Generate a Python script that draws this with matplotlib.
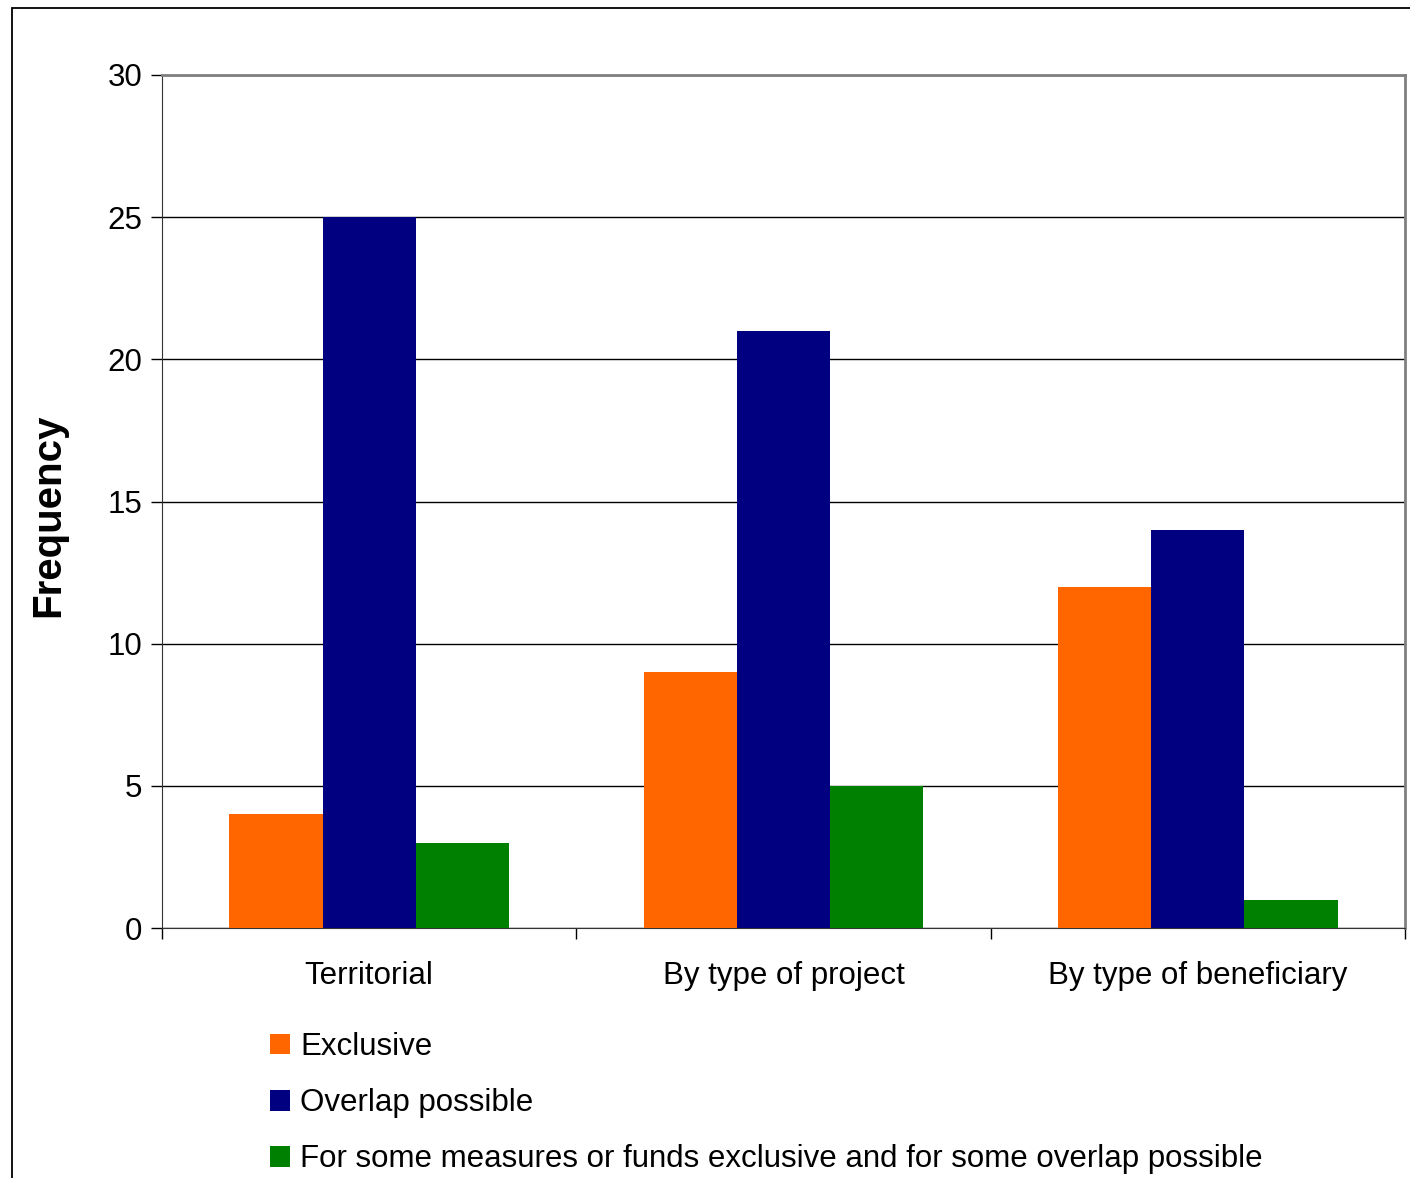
import matplotlib.pyplot as plt
from matplotlib.patches import Rectangle

plt.rcParams['font.family'] = ['Liberation Sans', 'DejaVu Sans']

categories = ["Territorial", "By type of project", "By type of beneficiary"]
series_names = ["Exclusive", "Overlap possible",
                "For some measures or funds exclusive and for some overlap possible"]
exclusive = [4, 9, 12]
overlap = [25, 21, 14]
mixed = [3, 5, 1]
colors = ["#FF6600", "#000080", "#008000"]

fig = plt.figure(figsize=(14.1, 11.78), dpi=100)
ax = fig.add_axes([162 / 1410, 1 - 928 / 1178, (1405 - 162) / 1410, (928 - 75) / 1178])

# outer chart frame (cut off at right and bottom)
fig.patches.append(Rectangle((12 / 1410, -0.05), 1.2, 1 - 8 / 1178 + 0.05,
                             transform=fig.transFigure, fill=False,
                             edgecolor="black", linewidth=1.3))

w = 0.225
x = range(len(categories))
bars = []
for k, vals in enumerate([exclusive, overlap, mixed]):
    b = ax.bar([i + (k - 1) * w for i in x], vals, width=w, color=colors[k],
               label=series_names[k], zorder=3, linewidth=0)
    bars.append(b)

ax.set_xlim(-0.5, 2.5)
ax.set_ylim(0, 30)
ax.set_yticks(range(0, 31, 5))
ax.yaxis.grid(True, color="black", linewidth=1)
ax.set_axisbelow(True)

ax.set_xticks([-0.5, 0.5, 1.5, 2.5])
ax.set_xticklabels([])
ax.set_xticks(list(x), minor=True)
ax.set_xticklabels(categories, minor=True, fontsize=22.5)
ax.tick_params(axis="x", which="minor", length=0, pad=24)
ax.tick_params(axis="x", which="major", length=8, width=1, direction="out")
ax.tick_params(axis="y", length=8, width=1, labelsize=22.5, pad=6)

for s in ["top", "right"]:
    ax.spines[s].set_color("#808080")
    ax.spines[s].set_linewidth(2)
ax.spines["left"].set_color("#333333")
ax.spines["bottom"].set_color("#333333")

ax.set_ylabel("Frequency", fontsize=29, fontweight="bold")
ax.yaxis.set_label_coords(-0.0764, 0.484)

fig.legend(handles=bars, loc="upper left", bbox_to_anchor=(270 / 1410, 1 - 1032 / 1178),
           frameon=False, fontsize=22.5, handlelength=0.64, handleheight=0.64,
           handletextpad=0.32, labelspacing=0.84, borderaxespad=0, borderpad=0)

fig.savefig("out.png", dpi=100)
